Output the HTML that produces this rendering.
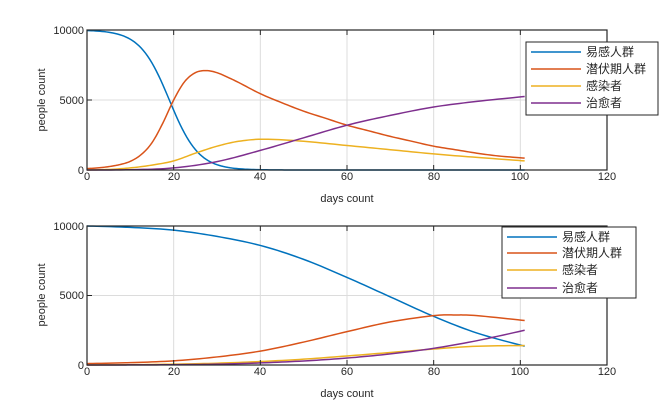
<!DOCTYPE html>
<html><head><meta charset="utf-8"><style>
body{margin:0;background:#fff}
svg{display:block}
text{font-family:"Liberation Sans","Noto Sans CJK SC",sans-serif;fill:#262626}
</style></head><body>
<svg id="s" width="671" height="411" xmlns="http://www.w3.org/2000/svg">
<rect width="671" height="411" fill="#fff"/>
<g id="g1"></g>
<g id="g2"></g>
<text x="87" y="180" font-size="11" text-anchor="middle">0</text>
<text x="174" y="180" font-size="11" text-anchor="middle">20</text>
<text x="260" y="180" font-size="11" text-anchor="middle">40</text>
<text x="347" y="180" font-size="11" text-anchor="middle">60</text>
<text x="434" y="180" font-size="11" text-anchor="middle">80</text>
<text x="520" y="180" font-size="11" text-anchor="middle">100</text>
<text x="607" y="180" font-size="11" text-anchor="middle">120</text>
<text x="84" y="34" font-size="11" text-anchor="end">10000</text>
<text x="84" y="104" font-size="11" text-anchor="end">5000</text>
<text x="84" y="174" font-size="11" text-anchor="end">0</text>
<text x="347" y="202" font-size="11" text-anchor="middle">days count</text>
<text transform="translate(45,100) rotate(-90)" font-size="11" text-anchor="middle">people count</text>
<text x="87" y="375" font-size="11" text-anchor="middle">0</text>
<text x="174" y="375" font-size="11" text-anchor="middle">20</text>
<text x="260" y="375" font-size="11" text-anchor="middle">40</text>
<text x="347" y="375" font-size="11" text-anchor="middle">60</text>
<text x="434" y="375" font-size="11" text-anchor="middle">80</text>
<text x="520" y="375" font-size="11" text-anchor="middle">100</text>
<text x="607" y="375" font-size="11" text-anchor="middle">120</text>
<text x="84" y="230" font-size="11" text-anchor="end">10000</text>
<text x="84" y="299" font-size="11" text-anchor="end">5000</text>
<text x="84" y="369" font-size="11" text-anchor="end">0</text>
<text x="347" y="397" font-size="11" text-anchor="middle">days count</text>
<text transform="translate(45,295) rotate(-90)" font-size="11" text-anchor="middle">people count</text>
<g>
<rect x="526" y="42" width="132" height="73" fill="#fff" stroke="#262626" stroke-width="1"/>
<line x1="531" y1="52" x2="581" y2="52" stroke="#0072BD" stroke-width="1.5"/>
<line x1="531" y1="69" x2="581" y2="69" stroke="#D95319" stroke-width="1.5"/>
<line x1="531" y1="86" x2="581" y2="86" stroke="#EDB120" stroke-width="1.5"/>
<line x1="531" y1="103" x2="581" y2="103" stroke="#7E2F8E" stroke-width="1.5"/>
<text x="586" y="56" font-size="12">易感人群</text>
<text x="586" y="73" font-size="12">潜伏期人群</text>
<text x="586" y="90" font-size="12">感染者</text>
<text x="586" y="107" font-size="12">治愈者</text>
</g>
<g>
<rect x="502" y="227" width="134" height="71" fill="#fff" stroke="#262626" stroke-width="1"/>
<line x1="507" y1="237" x2="557" y2="237" stroke="#0072BD" stroke-width="1.5"/>
<line x1="507" y1="253" x2="557" y2="253" stroke="#D95319" stroke-width="1.5"/>
<line x1="507" y1="270" x2="557" y2="270" stroke="#EDB120" stroke-width="1.5"/>
<line x1="507" y1="288" x2="557" y2="288" stroke="#7E2F8E" stroke-width="1.5"/>
<text x="562" y="241" font-size="12">易感人群</text>
<text x="562" y="257" font-size="12">潜伏期人群</text>
<text x="562" y="274" font-size="12">感染者</text>
<text x="562" y="292" font-size="12">治愈者</text>
</g>
</svg>
<script>
function cr(pts,n){var o=[];for(var i=0;i<pts.length-1;i++){var p0=pts[Math.max(0,i-1)],p1=pts[i],p2=pts[i+1],p3=pts[Math.min(pts.length-1,i+2)];for(var k=0;k<n;k++){var t=k/n,t2=t*t,t3=t2*t;var f=function(a,b,c,d){return 0.5*(2*b+(-a+c)*t+(2*a-5*b+4*c-d)*t2+(-a+3*b-3*c+d)*t3)};o.push([f(p0[0],p1[0],p2[0],p3[0]),f(p0[1],p1[1],p2[1],p3[1])]);}}o.push(pts[pts.length-1]);return o;}
function draw(gid,top,bot,series){
 var g=document.getElementById(gid),h='';
 var X=function(t){return 87+t*520/120},Y=function(v){return bot-v/10000*(bot-top)};
 for(var t=20;t<=100;t+=20)h+='<line x1="'+X(t)+'" y1="'+top+'" x2="'+X(t)+'" y2="'+bot+'" stroke="#dcdcdc" stroke-width="1"/>';
 h+='<line x1="87" y1="'+Y(5000)+'" x2="607" y2="'+Y(5000)+'" stroke="#dcdcdc" stroke-width="1"/>';
 series.forEach(function(s){var p=s[1](),d='';p.forEach(function(q,i){d+=(i?'L':'M')+X(q[0]).toFixed(2)+' '+Y(q[1]).toFixed(2)});h+='<path d="'+d+'" fill="none" stroke="'+s[0]+'" stroke-width="1.5"/>';});
 h+='<rect x="87" y="'+top+'" width="520" height="'+(bot-top)+'" fill="none" stroke="#262626" stroke-width="1.2"/>';
 for(var t=0;t<=120;t+=20){h+='<line x1="'+X(t)+'" y1="'+bot+'" x2="'+X(t)+'" y2="'+(bot-5)+'" stroke="#262626"/><line x1="'+X(t)+'" y1="'+top+'" x2="'+X(t)+'" y2="'+(top+5)+'" stroke="#262626"/>';}
 [0,5000,10000].forEach(function(v){h+='<line x1="87" y1="'+Y(v)+'" x2="92" y2="'+Y(v)+'" stroke="#262626"/><line x1="602" y1="'+Y(v)+'" x2="607" y2="'+Y(v)+'" stroke="#262626"/>';});
 g.innerHTML=h;
}
function S1(){var o=[];for(var t=0;t<=101;t+=0.5)o.push([t,10000/(1+Math.exp((t-19)/3.4))]);return o;}
draw('g1',30,170,[
['#0072BD',S1],
['#D95319',function(){return cr([[0,100],[2.5,150],[5,240],[7.5,380],[10,620],[12.5,1100],[15,1950],[17.5,3350],[20,5000],[22.5,6300],[25,6950],[27.5,7100],[30,6950],[32.5,6620],[35,6250],[40,5450],[45,4800],[50,4200],[55,3700],[60,3200],[65,2800],[70,2400],[75,2050],[80,1700],[85,1450],[90,1200],[95,1000],[101,850]],8)}],
['#EDB120',function(){return cr([[0,0],[5,40],[10,150],[15,350],[20,650],[25,1200],[30,1700],[35,2050],[41,2200],[50,2050],[60,1750],[70,1450],[80,1150],[90,900],[101,650]],10)}],
['#7E2F8E',function(){return cr([[0,0],[10,20],[20,150],[30,600],[40,1400],[50,2300],[60,3200],[70,3900],[80,4500],[90,4900],[101,5250]],10)}]
]);
draw('g2',226,365,[
['#0072BD',function(){return cr([[0,10000],[10,9900],[20,9700],[30,9250],[40,8600],[50,7600],[60,6300],[70,4900],[80,3500],[90,2300],[101,1350]],10)}],
['#D95319',function(){return cr([[0,100],[10,170],[20,300],[30,580],[40,1000],[50,1650],[60,2400],[70,3100],[80,3550],[85,3600],[90,3550],[101,3200]],10)}],
['#EDB120',function(){return cr([[0,0],[10,20],[20,60],[30,130],[40,250],[50,420],[60,650],[70,900],[80,1150],[90,1350],[101,1400]],10)}],
['#7E2F8E',function(){return cr([[0,0],[10,5],[20,20],[30,60],[40,150],[50,290],[60,500],[70,800],[80,1200],[90,1750],[101,2500]],10)}]
]);
</script>
</body></html>
